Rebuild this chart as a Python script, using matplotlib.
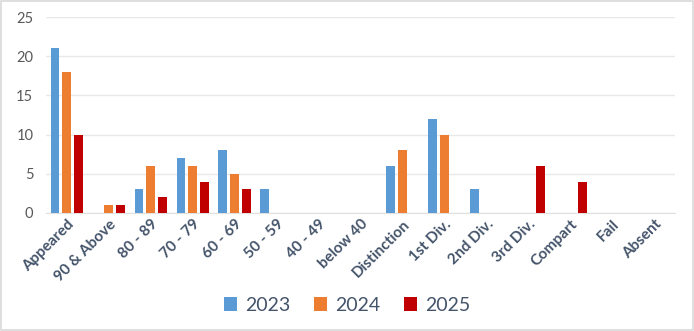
import matplotlib.pyplot as plt
import numpy as np
from matplotlib.patches import Rectangle

categories = ['Appeared', '90 & Above', '80 - 89', '70 - 79', '60 - 69', '50 - 59',
              '40 - 49', 'below 40', 'Distinction', '1st Div.', '2nd Div.',
              '3rd Div.', 'Compart', 'Fail', 'Absent']
vals_2023 = [21, 0, 3, 7, 8, 3, 0, 0, 6, 12, 3, 0, 0, 0, 0]
vals_2024 = [18, 1, 6, 6, 5, 0, 0, 0, 8, 10, 0, 0, 0, 0, 0]
vals_2025 = [10, 1, 2, 4, 3, 0, 0, 0, 0, 0, 0, 6, 4, 0, 0]
years = ['2023', '2024', '2025']
colors = ['#5B9BD5', '#ED7D31', '#C00000']

plt.rcParams['font.family'] = ['Lato', 'DejaVu Sans']

fig = plt.figure(figsize=(6.94, 3.31), dpi=100)
ax = fig.add_axes([0.066, 0.3565, 0.907, 0.592])

x = np.arange(len(categories))
w = 0.21
for i, (vals, c, yr) in enumerate(zip([vals_2023, vals_2024, vals_2025], colors, years)):
    ax.bar(x + (i - 1) * 0.28, vals, width=w, color=c, label=yr, zorder=3)

ax.set_xlim(-0.5, len(categories) - 0.5)
ax.set_ylim(0, 25)
ax.set_yticks([0, 5, 10, 15, 20, 25])
ax.yaxis.grid(True, color='#E8E8E8', linewidth=1, zorder=0)
for s in ['top', 'right', 'left']:
    ax.spines[s].set_visible(False)
ax.spines['bottom'].set_color('#E0E0E0')
ax.tick_params(axis='both', length=0)
ax.tick_params(axis='y', labelcolor='#595959', labelsize=10.5, pad=9)
ax.tick_params(axis='x', pad=3)
ax.set_xticks(x)
ax.set_xticklabels(categories, rotation=45, ha='right', rotation_mode='anchor',
                   fontsize=11, color='#44546A', fontweight='bold')

ax.legend(loc='center', bbox_to_anchor=(0.5, 0.078), bbox_transform=fig.transFigure,
          ncol=3, frameon=False, fontsize=14, handlelength=0.7, handleheight=0.7,
          columnspacing=1.2, handletextpad=0.4, labelcolor='#44546A')

fig.patches.append(Rectangle((0.002, 0.004), 0.996, 0.993, transform=fig.transFigure,
                             fill=False, edgecolor='#D9D9D9', linewidth=1.2))

plt.savefig('out.png', dpi=100)
plt.close()
